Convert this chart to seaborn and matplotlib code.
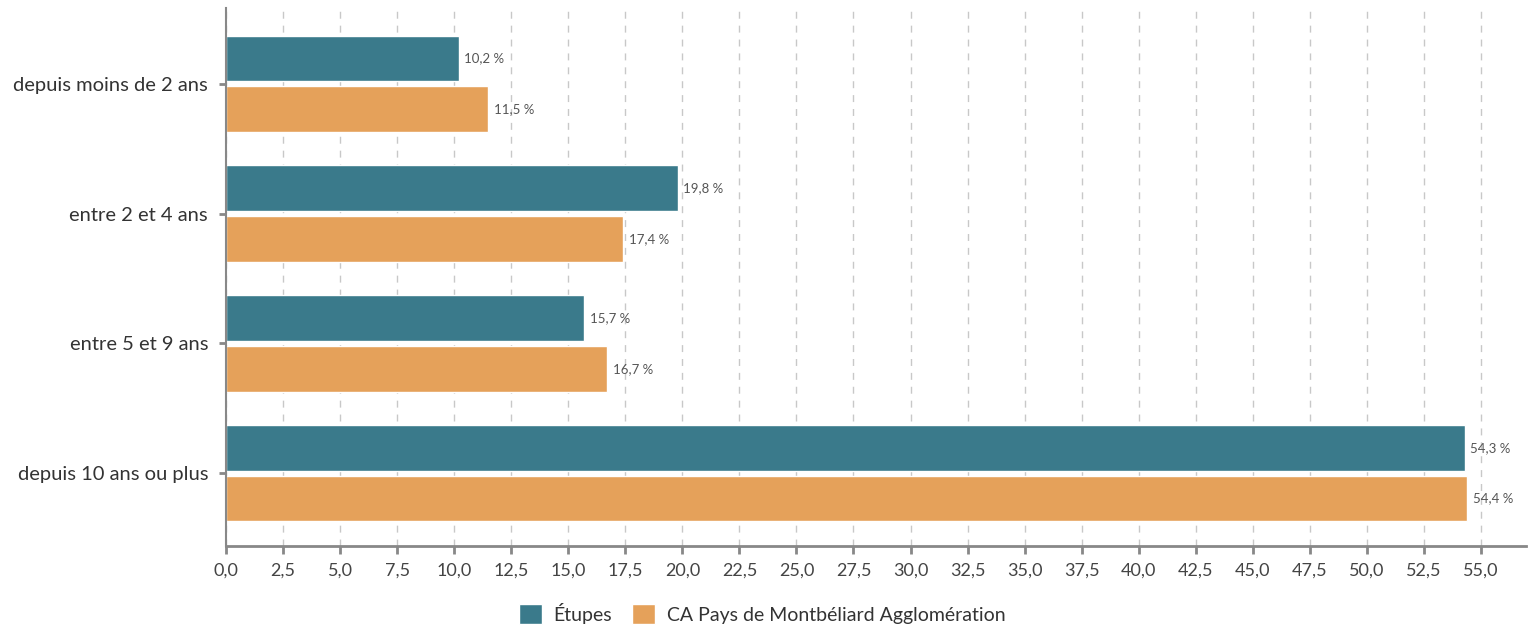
import pandas as pd
import seaborn as sns
import matplotlib.pyplot as plt
from matplotlib.ticker import MultipleLocator, FuncFormatter

categories = ["depuis moins de 2 ans", "entre 2 et 4 ans", "entre 5 et 9 ans", "depuis 10 ans ou plus"]
etupes = [10.2, 19.8, 15.7, 54.3]
cpma = [11.5, 17.4, 16.7, 54.4]
series = ["Étupes", "CA Pays de Montbéliard Agglomération"]
colors = ["#3a7a8b", "#e5a15a"]

df = pd.DataFrame({
    "cat": categories * 2,
    "val": etupes + cpma,
    "serie": [series[0]] * 4 + [series[1]] * 4,
})

sns.set_style("white")
plt.rcParams["font.family"] = ["Lato", "DejaVu Sans"]

fig = plt.figure(figsize=(15.28, 6.28), dpi=100)
ax = fig.add_axes([0.148, 0.131, 0.851, 0.856])

sns.barplot(data=df, y="cat", x="val", hue="serie", palette=colors, orient="h",
            width=0.78, gap=0.1, ax=ax, saturation=1)

for cont in ax.containers:
    ax.bar_label(cont, labels=[f"{v:.1f} %".replace(".", ",") for v in cont.datavalues],
                 padding=4, fontsize=9.5, color="#555555")

ax.set_xlim(0, 57.0)
ax.set_ylim(3.558, -0.581)
ax.xaxis.set_major_locator(MultipleLocator(2.5))
ax.xaxis.set_major_formatter(FuncFormatter(lambda v, p: f"{v:.1f}".replace(".", ",")))
ax.grid(axis="x", linestyle=(0, (5, 5)), color="#c8c8c8", linewidth=1)
ax.grid(axis="y", visible=False)
ax.set_xlabel("")
ax.set_ylabel("")

for s in ["top", "right"]:
    ax.spines[s].set_visible(False)
ax.spines["left"].set_color("#888888")
ax.spines["left"].set_linewidth(1.5)
ax.spines["bottom"].set_color("#888888")
ax.spines["bottom"].set_linewidth(2)

ax.tick_params(axis="x", bottom=True, length=6, width=2, color="#888888", labelsize=13, labelcolor="#444444", pad=6)
ax.tick_params(axis="y", left=True, length=5, width=2, color="#888888", labelsize=14.5, labelcolor="#333333", pad=8)

ax.legend(loc="center", bbox_to_anchor=(0.412, -0.126), ncol=2, frameon=False, fontsize=14,
          handlelength=1.2, handleheight=1.2, handletextpad=0.6, columnspacing=1.0, labelcolor="#333333")

fig.savefig("out.png", dpi=100)
